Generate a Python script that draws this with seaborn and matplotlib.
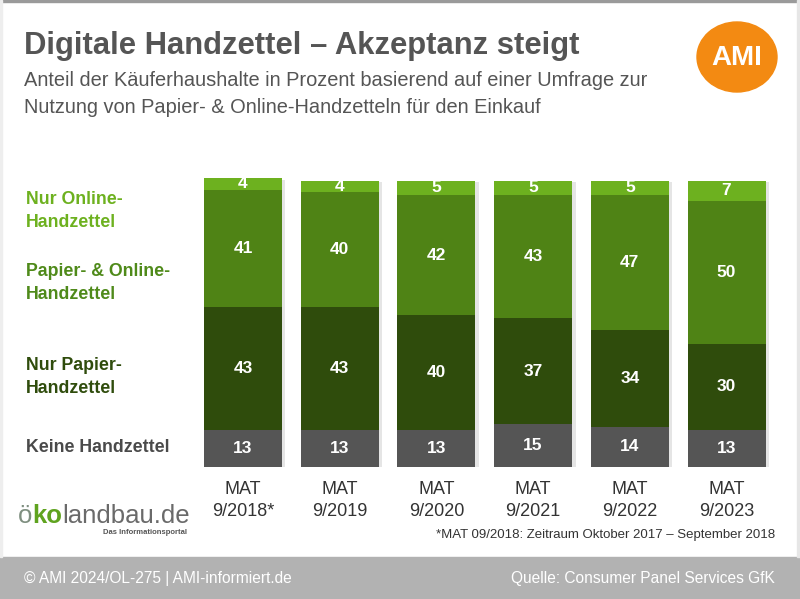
import matplotlib
matplotlib.use("Agg")
import matplotlib.pyplot as plt
import matplotlib.patheffects as pe
from matplotlib.patches import Ellipse, Rectangle
import seaborn as sns
import pandas as pd
import numpy as np

sns.set_theme(style="white")
plt.rcParams['font.family'] = ['Liberation Sans', 'DejaVu Sans']

periods = ["MAT\n9/2018*", "MAT\n9/2019", "MAT\n9/2020", "MAT\n9/2021", "MAT\n9/2022", "MAT\n9/2023"]
keine = [13, 13, 13, 15, 14, 13]
nur_papier = [43, 43, 40, 37, 34, 30]
papier_online = [41, 40, 42, 43, 47, 50]
nur_online = [4, 4, 5, 5, 5, 7]

series_names = ["Keine Handzettel", "Nur Papier-\nHandzettel", "Papier- & Online-\nHandzettel", "Nur Online-\nHandzettel"]
series_vals = [keine, nur_papier, papier_online, nur_online]
colors = ["#555555", "#2f4c0c", "#4f8315", "#6db11f"]
label_colors = ["#4a4a4a", "#2f4c0c", "#4f8a1a", "#6db11f"]

cum = np.zeros(len(periods))
cums = []
for v in series_vals:
    cum = cum + np.array(v)
    cums.append(cum.copy())

fig = plt.figure(figsize=(8, 5.99), dpi=100)
ax = fig.add_axes([0.2433, 0.2204, 0.7253, 0.4965])

for i in range(3, -1, -1):
    d = pd.DataFrame({"period": periods, "val": cums[i]})
    sns.barplot(data=d, x="period", y="val", color=colors[i], width=0.807,
                saturation=1, ax=ax, linewidth=0, order=periods)
for p in ax.patches[:len(periods)]:
    p.set_path_effects([pe.SimplePatchShadow(offset=(2.5, -1), shadow_rgbFace="#aaaaaa", alpha=0.3), pe.Normal()])

ax.set_xlim(-0.5, 5.5)
ax.set_ylim(0, 104)
ax.axis("off")

for i, vals in enumerate(series_vals):
    base = cums[i] - np.array(vals)
    for j, v in enumerate(vals):
        yc = base[j] + v / 2
        if i == 3:
            yc = base[j] + v / 2 + 0.2
        ax.text(j, yc, str(v), ha="center", va="center", color="white",
                fontsize=12.5, fontweight="bold")

for j, p in enumerate(periods):
    ax.text(j, -5.0, p, ha="center", va="top", fontsize=13, color="#333333",
            linespacing=1.35, clip_on=False)

label_y = [448, 377, 283, 211]
for name, col, y in zip(series_names, label_colors, label_y):
    fig.text(26 / 800, 1 - y / 599, name, ha="left", va="center", fontsize=12.8,
             fontweight="bold", color=col, linespacing=1.4)

fig.text(24 / 800, 1 - 46 / 599, "Digitale Handzettel – Akzeptanz steigt", fontsize=22.3,
         fontweight="bold", color="#555555", ha="left", va="center")
fig.text(24 / 800, 1 - 81 / 599, "Anteil der Käuferhaushalte in Prozent basierend auf einer Umfrage zur",
         fontsize=14.4, color="#555555", ha="left", va="center")
fig.text(24 / 800, 1 - 108 / 599, "Nutzung von Papier- & Online-Handzetteln für den Einkauf",
         fontsize=14.4, color="#555555", ha="left", va="center")

ov = fig.add_axes([0, 0, 1, 1], facecolor="none")
ov.set_xlim(0, 800)
ov.set_ylim(599, 0)
ov.axis("off")
ov.add_patch(Ellipse((737, 57), 80, 70, color="#f38a12"))
ov.text(737, 58, "AMI", color="white", fontsize=20, fontweight="bold", ha="center", va="center")

ov.add_patch(Rectangle((0, 557), 800, 42, color="#b2b2b2"))
ov.text(24, 578, "© AMI 2024/OL-275 | AMI-informiert.de", color="white", fontsize=11.2,
        ha="left", va="center")
ov.text(775, 578, "Quelle: Consumer Panel Services GfK", color="white", fontsize=11.2,
        ha="right", va="center")

ov.text(775, 535, "*MAT 09/2018: Zeitraum Oktober 2017 – September 2018", color="#333333",
        fontsize=9.5, ha="right", va="center")

ov.add_patch(Rectangle((0, 0), 800, 2, color="#9a9a9a"))
ov.add_patch(Rectangle((797, 0), 3, 557, color="#e6e6e6"))
ov.add_patch(Rectangle((0, 0), 2, 557, color="#eeeeee"))

renderer = fig.canvas.get_renderer()
x = 18
for txt, col, wt in [("ö", "#7f8f80", "normal"), ("ko", "#5fa31f", "bold"), ("landbau.de", "#6a6a6a", "normal")]:
    t = ov.text(x, 516, txt, color=col, fontsize=18.5, ha="left", va="center", fontweight=wt)
    bb = t.get_window_extent(renderer=renderer)
    x += bb.width
ov.text(187, 533, "Das Informationsportal", color="#555555", fontsize=5.5, ha="right",
        va="center", fontweight="bold")

fig.savefig("out.png", dpi=100, facecolor="white")
